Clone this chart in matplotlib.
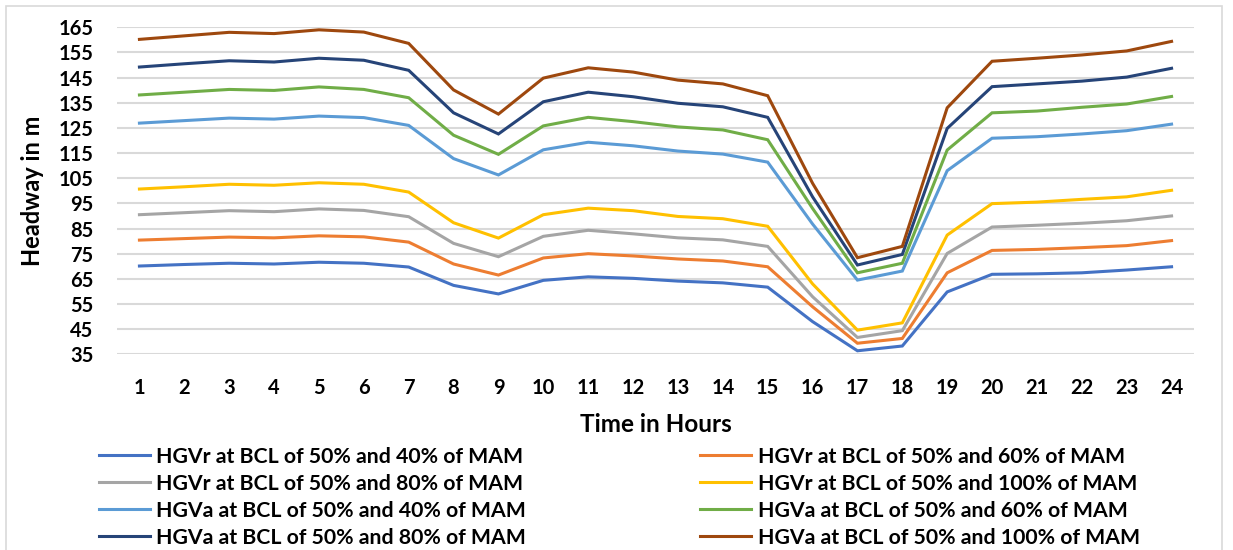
import matplotlib
matplotlib.use('Agg')
import matplotlib.pyplot as plt
import matplotlib.patches as mpatches

# Hourly headway values
hours = list(range(1, 25))

hgvr_40 = [70.1, 70.7, 71.2, 70.9, 71.6, 71.2, 69.7, 62.4, 59.0, 64.4, 65.8, 65.2,
           64.1, 63.4, 61.7, 48.0, 36.4, 38.3, 59.8, 66.8, 67.0, 67.4, 68.5, 69.8]
hgvr_60 = [80.4, 81.0, 81.6, 81.3, 82.1, 81.7, 79.6, 70.9, 66.5, 73.3, 75.0, 74.1,
           72.9, 72.1, 69.8, 53.9, 39.4, 41.3, 67.4, 76.3, 76.7, 77.4, 78.2, 80.2]
hgvr_80 = [90.5, 91.3, 92.1, 91.7, 92.8, 92.2, 89.7, 79.1, 73.8, 81.9, 84.3, 82.9,
           81.3, 80.5, 77.9, 57.9, 41.7, 44.4, 75.1, 85.6, 86.3, 87.1, 88.1, 90.0]
hgvr_100 = [100.7, 101.6, 102.6, 102.2, 103.2, 102.6, 99.5, 87.3, 81.2, 90.5, 93.1, 92.1,
            89.8, 88.9, 85.9, 63.0, 44.6, 47.5, 82.4, 94.9, 95.5, 96.6, 97.6, 100.2]
hgva_40 = [126.9, 127.9, 128.9, 128.5, 129.7, 129.1, 126.0, 112.8, 106.3, 116.3, 119.3, 117.9,
           115.8, 114.6, 111.4, 86.8, 64.5, 68.1, 108.0, 120.9, 121.5, 122.6, 123.9, 126.5]
hgva_60 = [138.1, 139.2, 140.3, 139.9, 141.3, 140.3, 137.0, 122.1, 114.5, 125.8, 129.2, 127.5,
           125.4, 124.2, 120.3, 93.0, 67.4, 71.2, 116.2, 131.0, 131.7, 133.2, 134.5, 137.5]
hgva_80 = [149.2, 150.5, 151.7, 151.2, 152.7, 151.9, 147.9, 131.0, 122.6, 135.4, 139.2, 137.4,
           134.8, 133.4, 129.2, 97.6, 70.5, 74.7, 124.8, 141.4, 142.5, 143.6, 145.2, 148.7]
hgva_100 = [160.2, 161.6, 163.0, 162.5, 164.0, 163.1, 158.6, 140.1, 130.5, 144.8, 148.9, 147.2,
            144.0, 142.5, 137.8, 103.0, 73.4, 77.9, 133.0, 151.5, 152.7, 154.0, 155.6, 159.4]

series = [
    ('HGVr at BCL of 50% and 40% of MAM', hgvr_40, '#4472C4'),
    ('HGVr at BCL of 50% and 60% of MAM', hgvr_60, '#ED7D31'),
    ('HGVr at BCL of 50% and 80% of MAM', hgvr_80, '#A5A5A5'),
    ('HGVr at BCL of 50% and 100% of MAM', hgvr_100, '#FFC000'),
    ('HGVa at BCL of 50% and 40% of MAM', hgva_40, '#5B9BD5'),
    ('HGVa at BCL of 50% and 60% of MAM', hgva_60, '#70AD47'),
    ('HGVa at BCL of 50% and 80% of MAM', hgva_80, '#264478'),
    ('HGVa at BCL of 50% and 100% of MAM', hgva_100, '#9E480E'),
]

y_ticks = list(range(35, 166, 10))

plt.rcParams['font.family'] = ['Lato', 'DejaVu Sans']
plt.rcParams['font.weight'] = 'bold'

W, H = 1233, 550
fig = plt.figure(figsize=(W / 100, H / 100), dpi=100)
ax = fig.add_axes([117 / W, 1 - 354.3 / H, (1194 - 117) / W, (354.3 - 27.3) / H])

handles = []
for label, vals, color in series:
    ln, = ax.plot(hours, vals, color=color, lw=2.2, label=label, zorder=3,
                  solid_joinstyle='miter')
    handles.append(ln)

ax.set_xlim(0.5, 24.5)
ax.set_ylim(35, 165)
ax.set_xticks(hours)
ax.set_yticks(y_ticks)
ax.tick_params(length=0, labelsize=14.5)
ax.tick_params(axis='x', pad=17)
ax.tick_params(axis='y', pad=17)
for lab in ax.get_xticklabels() + ax.get_yticklabels():
    lab.set_fontweight('bold')

ax.grid(axis='y', color='#D9D9D9', lw=1.5, zorder=0)
for s in ax.spines.values():
    s.set_visible(False)

ax.set_xlabel('Time in Hours', fontsize=17.5, fontweight='bold', labelpad=11)
ax.set_ylabel('Headway in m', fontsize=17, fontweight='bold', labelpad=10)

# legend is filled row by row in the original, matplotlib fills by column
order = [0, 2, 4, 6, 1, 3, 5, 7]
fig.legend([handles[i] for i in order], [series[i][0] for i in order],
           ncol=2, loc='upper left', bbox_to_anchor=(88 / W, 1 - 436 / H),
           frameon=False, fontsize=15.3, handlelength=2.4, handletextpad=0.3,
           labelspacing=0.33, columnspacing=8.2, borderpad=0)

# outer chart border
fig.add_artist(mpatches.Rectangle((6 / W, -0.05), (1222 - 6) / W, 1 - 6 / H + 0.05,
                                  transform=fig.transFigure, fill=False,
                                  edgecolor='#D9D9D9', lw=1.2))

fig.savefig('out.png', dpi=100, facecolor='white')
